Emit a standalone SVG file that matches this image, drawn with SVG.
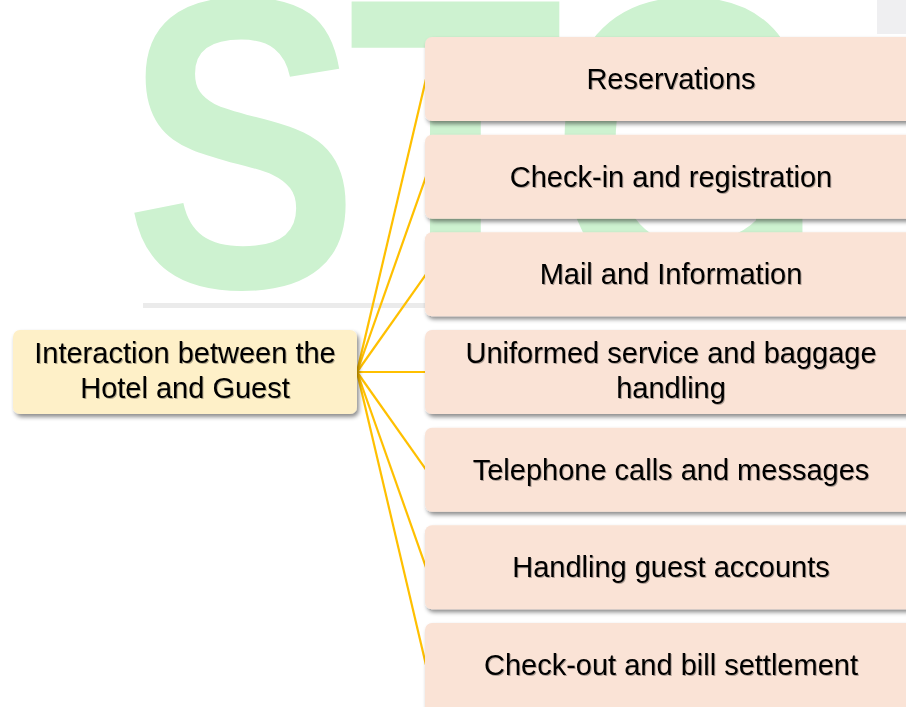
<svg xmlns="http://www.w3.org/2000/svg" width="906" height="707" viewBox="0 0 906 707">
<defs>
<filter id="sh" x="-10%" y="-20%" width="130%" height="150%">
<feDropShadow dx="2" dy="3" stdDeviation="2" flood-color="#000" flood-opacity="0.45"/>
</filter>
<filter id="tsh" x="-5%" y="-20%" width="110%" height="150%">
<feDropShadow dx="1" dy="1" stdDeviation="0.6" flood-color="#000" flood-opacity="0.3"/>
</filter>
<style>
.box{fill:#fae3d6;filter:url(#sh);}
.root{fill:#fef0c8;filter:url(#sh);}
.lbl{font-family:"Liberation Sans",Arial,sans-serif;font-size:29px;fill:#000;text-anchor:middle;filter:url(#tsh);}
.wm{font-family:"Liberation Sans",Arial,sans-serif;font-weight:bold;font-size:415px;fill:#cdf2d0;}
.cn{stroke:#ffc000;stroke-width:2.2;fill:none;}
</style>
</defs>
<rect width="906" height="707" fill="#fff"/>
<g id="watermark">
<text class="wm" transform="translate(0,287) scale(0.85,1)"><tspan x="146" y="0">S</tspan><tspan x="409" y="0">T</tspan><tspan x="647" y="0">G</tspan></text>
<rect x="143" y="303" width="300" height="5" fill="#ebebeb"/>
<rect x="877" y="0" width="29" height="34" fill="#efeff1"/>
</g>
<g id="connectors">
<line class="cn" x1="357" y1="372" x2="426" y2="79"/>
<line class="cn" x1="357" y1="372" x2="426" y2="176.7"/>
<line class="cn" x1="357" y1="372" x2="426" y2="274.3"/>
<line class="cn" x1="357" y1="372" x2="426" y2="372"/>
<line class="cn" x1="357" y1="372" x2="426" y2="469.7"/>
<line class="cn" x1="357" y1="372" x2="426" y2="567.3"/>
<line class="cn" x1="357" y1="372" x2="426" y2="665"/>
</g>
<g id="root">
<rect class="root" x="13" y="330" width="344" height="84" rx="7"/>
<text class="lbl" x="185" y="363">Interaction between the</text>
<text class="lbl" x="185" y="398">Hotel and Guest</text>
</g>
<g id="n1">
<rect class="box" x="425" y="37" width="492" height="84" rx="7"/>
<text class="lbl" x="671" y="89">Reservations</text>
</g>
<g id="n2">
<rect class="box" x="425" y="134.7" width="492" height="84" rx="7"/>
<text class="lbl" x="671" y="186.7">Check-in and registration</text>
</g>
<g id="n3">
<rect class="box" x="425" y="232.3" width="492" height="84" rx="7"/>
<text class="lbl" x="671" y="284.3">Mail and Information</text>
</g>
<g id="n4">
<rect class="box" x="425" y="330" width="492" height="84" rx="7"/>
<text class="lbl" x="671" y="363">Uniformed service and baggage</text>
<text class="lbl" x="671" y="398">handling</text>
</g>
<g id="n5">
<rect class="box" x="425" y="427.7" width="492" height="84" rx="7"/>
<text class="lbl" x="671" y="479.7">Telephone calls and messages</text>
</g>
<g id="n6">
<rect class="box" x="425" y="525.3" width="492" height="84" rx="7"/>
<text class="lbl" x="671" y="577.3">Handling guest accounts</text>
</g>
<g id="n7">
<rect class="box" x="425" y="623" width="492" height="90" rx="7"/>
<text class="lbl" x="671" y="675">Check-out and bill settlement</text>
</g>
</svg>
